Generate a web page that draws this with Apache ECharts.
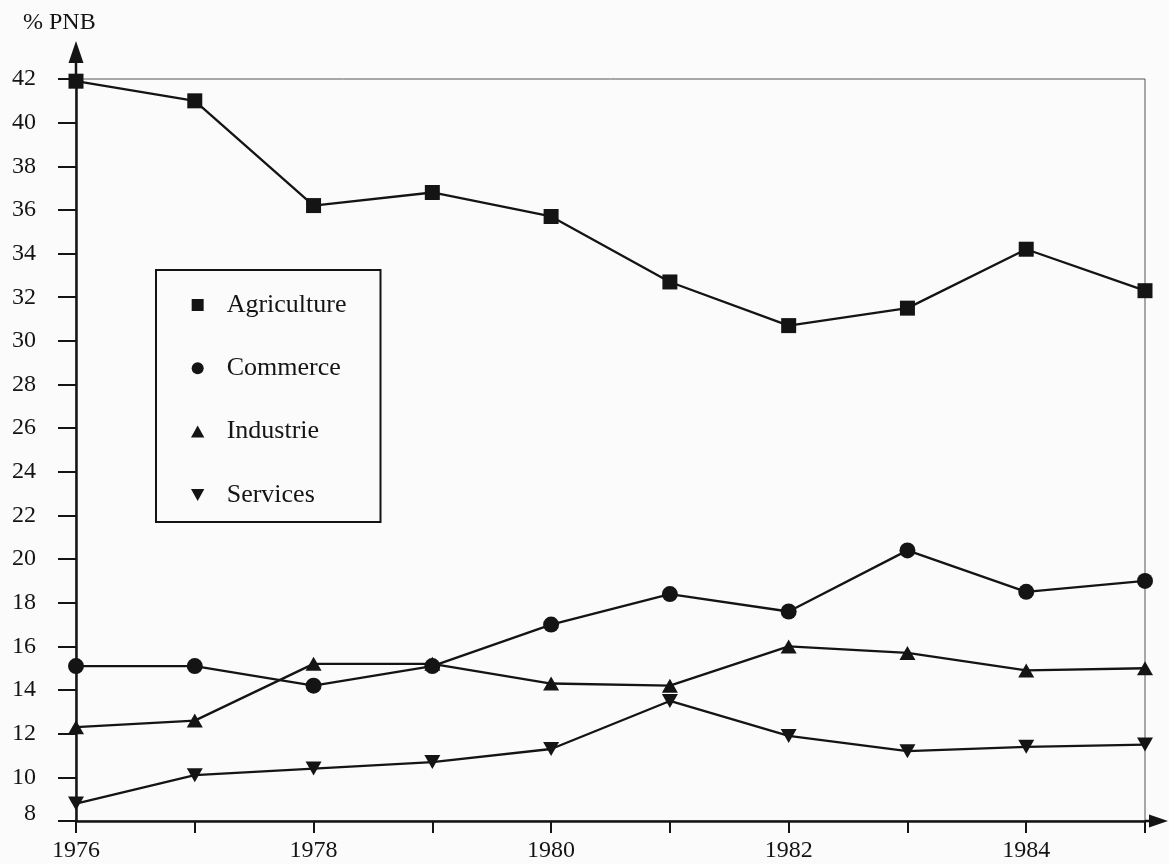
<!DOCTYPE html>
<html>
<head>
<meta charset="utf-8">
<script src="https://cdn.jsdelivr.net/npm/echarts@6/dist/echarts.min.js"></script>
<style>
  html, body { margin: 0; padding: 0; background: #fbfbfb; }
  #chart { width: 1169px; height: 864px; }
</style>
</head>
<body>
<div id="chart"></div>
<script>
// Part du PNB par secteur, 1976-1985
const years = [1976, 1977, 1978, 1979, 1980, 1981, 1982, 1983, 1984, 1985];
const agriculture = [41.9, 41.0, 36.2, 36.8, 35.7, 32.7, 30.7, 31.5, 34.2, 32.3];
const commerce = [15.1, 15.1, 14.2, 15.1, 17.0, 18.4, 17.6, 20.4, 18.5, 19.0];
const industrie = [12.3, 12.6, 15.2, 15.2, 14.3, 14.2, 16.0, 15.7, 14.9, 15.0];
const services = [8.8, 10.1, 10.4, 10.7, 11.3, 13.5, 11.9, 11.2, 11.4, 11.5];
const yTicks = [8, 10, 12, 14, 16, 18, 20, 22, 24, 26, 28, 30, 32, 34, 36, 38, 40, 42];
const yearLabels = [1976, 1978, 1980, 1982, 1984];

const ink = '#141414';
const serif = 'Liberation Serif';

// Arrow heads with a short stem, pointing "up" in local coordinates
const yArrow = 'path://M7.5,0 L15,22 L8.75,22 L8.75,38 L6.25,38 L6.25,22 L0,22 Z';
const xArrow = 'path://M6.5,0 L13,19 L7.75,19 L7.75,23 L5.25,23 L5.25,19 L0,19 Z';

const pairs = vals => years.map((y, i) => [y, vals[i]]);

const icons = {
  square: 'path://M0,0 L10,0 L10,10 L0,10 Z',
  circle: 'circle',
  up: 'path://M5,0 L10,9 L0,9 Z',
  down: 'path://M0,0 L10,0 L5,9 Z'
};

function lineSeries(name, vals, symbol, size, rotate) {
  return {
    name: name,
    type: 'line',
    data: pairs(vals),
    symbol: symbol,
    symbolSize: size,
    symbolRotate: rotate || 0,
    showAllSymbol: true,
    lineStyle: { color: ink, width: 2.3 },
    itemStyle: { color: ink },
    emphasis: { disabled: true },
    animation: false,
    z: 3
  };
}

const chart = echarts.init(document.getElementById('chart'));
chart.setOption({
  backgroundColor: '#fbfbfb',
  animation: false,
  title: {
    text: '% PNB',
    left: 18,
    top: 6,
    textStyle: { fontFamily: serif, fontSize: 24, fontWeight: 'normal', color: ink }
  },
  grid: {
    left: 76, right: 24, top: 79, bottom: 43,
    show: true, borderColor: '#555', borderWidth: 1, backgroundColor: 'transparent'
  },
  legend: {
    orient: 'vertical',
    left: 156,
    top: 270,
    padding: [21, 34, 13, 35],
    itemGap: 35.3,
    itemWidth: 48,
    itemHeight: 12,
    borderColor: ink,
    borderWidth: 2,
    selectedMode: false,
    textStyle: { fontFamily: serif, fontSize: 26, color: ink, lineHeight: 28 },
    data: [
      { name: 'Agriculture', icon: icons.square },
      { name: 'Commerce', icon: icons.circle },
      { name: 'Industrie', icon: icons.up },
      { name: 'Services', icon: icons.down }
    ]
  },
  xAxis: {
    type: 'value',
    min: 1976,
    max: 1985,
    interval: 1,
    splitLine: { show: false },
    axisLine: {
      lineStyle: { color: ink, width: 2.5 },
      symbol: ['none', xArrow],
      symbolSize: [13, 23],
      symbolOffset: [0, 11.5]
    },
    axisTick: { show: true, length: 12, lineStyle: { color: ink, width: 2 } },
    axisLabel: {
      margin: 18,
      color: ink,
      fontFamily: serif,
      fontSize: 24,
      customValues: yearLabels,
      formatter: v => String(v)
    }
  },
  yAxis: {
    type: 'value',
    min: 8,
    max: 42,
    interval: 2,
    splitLine: { show: false },
    axisLine: {
      lineStyle: { color: ink, width: 2.5 },
      symbol: ['none', yArrow],
      symbolSize: [15, 38],
      symbolOffset: [0, 19]
    },
    axisTick: { show: true, length: 18, lineStyle: { color: ink, width: 2 } },
    axisLabel: {
      margin: 40,
      color: ink,
      fontFamily: serif,
      fontSize: 24,
      customValues: yTicks,
      formatter: v => (v === 8 ? '{lo|8}' : String(v)),
      rich: { lo: { fontFamily: serif, fontSize: 24, color: ink, padding: [0, 0, 14, 0] } }
    }
  },
  series: [
    lineSeries('Agriculture', agriculture, 'rect', 15),
    lineSeries('Commerce', commerce, 'circle', 16),
    lineSeries('Industrie', industrie, 'triangle', [16, 14]),
    lineSeries('Services', services, 'triangle', [16, 14], 180)
  ]
});
</script>
</body>
</html>
